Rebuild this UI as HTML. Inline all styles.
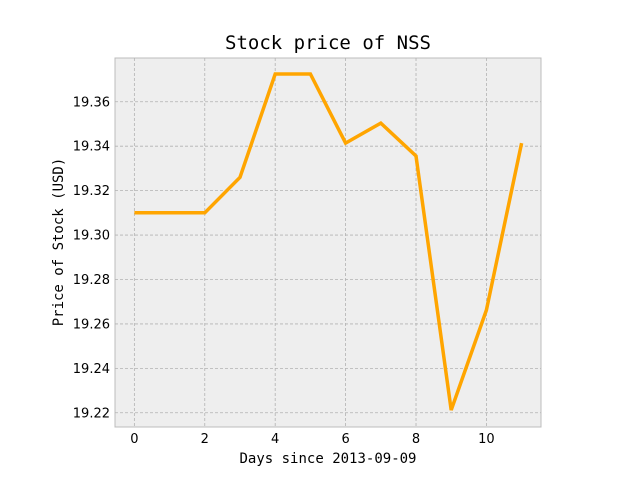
<!DOCTYPE html>
<html><head><meta charset="utf-8"><style>
body{margin:0;background:#fff;}
svg{display:block;}
</style></head><body>
<svg id="chart" width="640" height="480" xmlns="http://www.w3.org/2000/svg">
<rect x="0" y="0" width="640" height="480" fill="#fff"/>
<rect x="115" y="58" width="426" height="369" fill="#eeeeee" stroke="#bcbcbc" stroke-width="1"/>
<g id="grid"></g>
<g id="ticks"></g>
<g id="series"></g>
<text x="328" y="49" text-anchor="middle" font-family="'DejaVu Sans Mono','Liberation Mono',monospace" font-size="19" fill="#000">Stock price of NSS</text>
<text x="328" y="463" text-anchor="middle" font-family="'DejaVu Sans Mono','Liberation Mono',monospace" font-size="14" fill="#000">Days since 2013-09-09</text>
<text transform="translate(63,242) rotate(-90)" text-anchor="middle" font-family="'DejaVu Sans Mono','Liberation Mono',monospace" font-size="14" fill="#000">Price of Stock (USD)</text>
</svg>
<script>
const days = [0,1,2,3,4,5,6,7,8,9,10,11];
const prices = [19.310,19.310,19.310,19.326,19.3725,19.3725,19.3414,19.3504,19.3356,19.2212,19.2662,19.3414];
const xTicks = [0,2,4,6,8,10];
const yTicks = [19.22,19.24,19.26,19.28,19.30,19.32,19.34,19.36];
const yTickLabels = ["19.22","19.24","19.26","19.28","19.30","19.32","19.34","19.36"];

const L=115,R=541,T=58,B=427;
const xMin=-0.55,xMax=11.55,yMin=19.2136,yMax=19.3797;
const xs=v=>L+(v-xMin)/(xMax-xMin)*(R-L);
const ys=v=>B-(v-yMin)/(yMax-yMin)*(B-T);
const NS="http://www.w3.org/2000/svg";
function mk(tag,attrs,parent){const e=document.createElementNS(NS,tag);for(const k in attrs)e.setAttribute(k,attrs[k]);parent.appendChild(e);return e;}
const grid=document.getElementById('grid'),ticks=document.getElementById('ticks'),series=document.getElementById('series');
const font="'DejaVu Sans','Liberation Sans',sans-serif";
xTicks.forEach(t=>{
  const x=xs(t);
  const g=mk('line',{x1:x,x2:x,y1:T,y2:B,stroke:'#b2b2b2','stroke-width':0.8,'stroke-dasharray':'3,2'},grid);
  
  
  const tl=mk('text',{x:x,y:B+16,'text-anchor':'middle','font-family':font,'font-size':13,fill:'#000'},ticks);
  tl.textContent=t;
  
  
});
yTicks.forEach((t,i)=>{
  const y=ys(t);
  const g=mk('line',{x1:L,x2:R,y1:y,y2:y,stroke:'#b2b2b2','stroke-width':0.8,'stroke-dasharray':'3,2'},grid);
  
  
  const tl=mk('text',{x:L-5,y:y+4.5,'text-anchor':'end','font-family':font,'font-size':13,fill:'#000'},ticks);
  tl.textContent=yTickLabels[i];
  
  
});
const pts=days.map((d,i)=>xs(d).toFixed(1)+','+ys(prices[i]).toFixed(1)).join(' ');
const line=mk('polyline',{points:pts,fill:'none',stroke:'#ffa500','stroke-width':3.5,'stroke-linejoin':'miter'},series);


</script>
</body></html>
